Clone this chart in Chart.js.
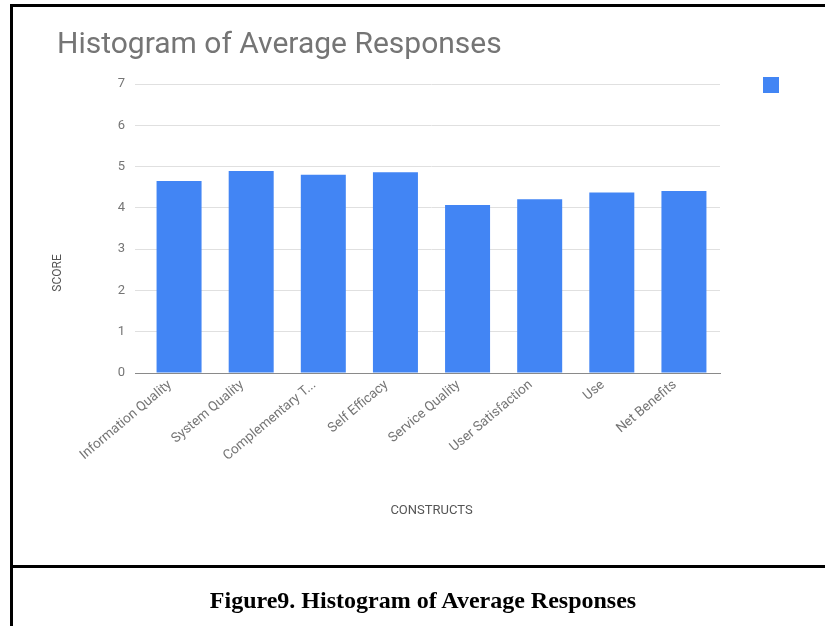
<!DOCTYPE html>
<html>
<head>
<meta charset="utf-8">
<title>Histogram of Average Responses</title>
<script src="https://cdn.jsdelivr.net/npm/chart.js@4.4.1/dist/chart.umd.min.js"></script>
<style>
    html, body { margin: 0; padding: 0; background: #fff; }
    body { width: 825px; height: 626px; position: relative; overflow: hidden; }
    #avgChart { position: absolute; left: 0; top: 0; }
    .frame { position: absolute; background: #000; }
    .frame-left { left: 10px; top: 4px; width: 3px; height: 622px; }
    .frame-top { left: 10px; top: 4px; width: 815px; height: 3px; }
    .frame-mid { left: 10px; top: 565px; width: 815px; height: 3px; }
    #caption {
        position: absolute; left: 10px; width: 826px; top: 588px;
        text-align: center; color: #000;
        font: bold 24px/24px "Liberation Serif", "Times New Roman", serif;
    }
</style>
</head>
<body>
<canvas id="avgChart" width="825" height="565"></canvas>
<div class="frame frame-left"></div>
<div class="frame frame-top"></div>
<div class="frame frame-mid"></div>
<div id="caption">Figure9. Histogram of Average Responses</div>

<script>
// dados
const constructs = ['Information Quality', 'System Quality', 'Complementary T...', 'Self Efficacy',
    'Service Quality', 'User Satisfaction', 'Use', 'Net Benefits'];
const averageScores = [4.65, 4.89, 4.80, 4.86, 4.07, 4.21, 4.37, 4.41];
const scoreTicks = [0, 1, 2, 3, 4, 5, 6, 7];

const barColor = '#4285f4';
const labelGray = '#757575';

// legenda sem texto + título do eixo y (fica abaixo do centro no original)
const extrasPlugin = {
    id: 'extras',
    afterDraw(chart) {
        const { ctx, chartArea } = chart;
        ctx.save();
        ctx.fillStyle = chart.data.datasets[0].backgroundColor;
        ctx.fillRect(chartArea.right + 43, chartArea.top - 7, 16, 16);

        ctx.translate(chartArea.left - 85, chartArea.top + 189);
        ctx.rotate(-Math.PI / 2);
        ctx.font = '12px Roboto';
        ctx.fillStyle = '#555';
        ctx.textAlign = 'center';
        ctx.textBaseline = 'middle';
        ctx.fillText('SCORE', 0, 0);
        ctx.restore();
    }
};

const ctxAvg = document.getElementById('avgChart').getContext('2d');
new Chart(ctxAvg, {
    type: 'bar',
    data: {
        labels: constructs,
        datasets: [{
            label: '',
            data: averageScores,
            backgroundColor: barColor,
            barPercentage: 0.624,
            categoryPercentage: 1.0
        }]
    },
    options: {
        responsive: false,
        animation: false,
        layout: { padding: { left: 57, right: 105, top: 0, bottom: 42 } },
        plugins: {
            legend: { display: false },
            tooltip: { enabled: false },
            title: {
                display: true,
                text: 'Histogram of Average Responses',
                align: 'start',
                color: labelGray,
                font: { family: 'Roboto', size: 30, weight: 'normal' },
                padding: { top: 27, bottom: 21 }
            }
        },
        scales: {
            x: {
                grid: { display: false, drawTicks: false },
                border: { display: true, color: '#8a8a8a', width: 1 },
                ticks: {
                    color: labelGray,
                    font: { family: 'Roboto', size: 13.5 },
                    minRotation: 40,
                    maxRotation: 40,
                    autoSkip: false,
                    labelOffset: -9,
                    padding: 4
                },
                title: {
                    display: true,
                    text: 'CONSTRUCTS',
                    color: '#555',
                    font: { family: 'Roboto', size: 13 },
                    padding: { top: 0, bottom: 4 }
                },
                afterFit: function (scale) { scale.height = 150; }
            },
            y: {
                min: scoreTicks[0],
                max: scoreTicks[scoreTicks.length - 1],
                grid: {
                    drawTicks: true,
                    tickLength: 8,
                    color: function (context) {
                        return context.tick && context.tick.value === 0 ? '#8a8a8a' : '#e0e0e0';
                    }
                },
                border: { display: false },
                ticks: {
                    stepSize: 1,
                    color: labelGray,
                    font: { family: 'Roboto', size: 13 },
                    padding: 10
                },
                afterFit: function (scale) { scale.width = 86; }
            }
        }
    },
    plugins: [extrasPlugin]
});
</script>
</body>
</html>
